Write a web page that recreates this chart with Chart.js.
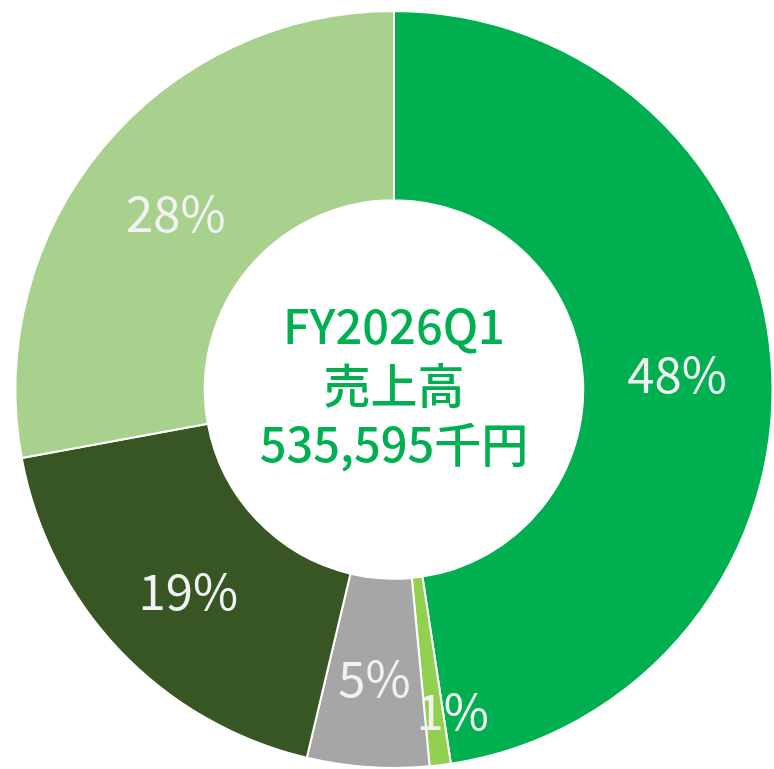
<!DOCTYPE html>
<html>
<head>
<meta charset="utf-8">
<script src="https://cdn.jsdelivr.net/npm/chart.js@4.4.1/dist/chart.umd.min.js"></script>
<style>
  html, body { margin: 0; padding: 0; background: #fff; }
  #wrap { width: 774px; height: 769px; }
</style>
</head>
<body>
<div id="wrap"><canvas id="salesChart" width="774" height="769"></canvas></div>
<script>
// 売上構成 (%)
const segments = ["A", "B", "C", "D", "E"];
const shares = [47.6, 0.9, 5.2, 18.4, 27.9];
const shareLabels = ["48%", "1%", "5%", "19%", "28%"];
const colors = ["#00B050", "#92D050", "#A6A6A6", "#375623", "#A9D18E"];
const centerLines = ["FY2026Q1", "売上高", "535,595千円"];

const FONT = "'Noto Sans CJK JP', 'Noto Sans', sans-serif";

// labels on each slice
const sliceLabels = {
    id: "sliceLabels",
    afterDatasetsDraw(chart) {
        const ctx = chart.ctx;
        const arcs = chart.getDatasetMeta(0).data;
        ctx.save();
        ctx.font = "49px " + FONT;
        ctx.fillStyle = "#F2F2F2";
        ctx.textAlign = "center";
        ctx.textBaseline = "middle";
        arcs.forEach((arc, i) => {
            const p = arc.tooltipPosition();
            let dx = 0, dy = 6;
            if (i === 1) { dx = 24; dy = 40; } // small slice label pushed outward
            ctx.fillText(shareLabels[i], p.x + dx, p.y + dy);
        });
        ctx.restore();
    }
};

// text in the hole
const centerText = {
    id: "centerText",
    afterDraw(chart) {
        const ctx = chart.ctx;
        const arc = chart.getDatasetMeta(0).data[0];
        ctx.save();
        ctx.font = "500 47px " + FONT;
        ctx.fillStyle = "#00B050";
        ctx.textAlign = "center";
        ctx.textBaseline = "middle";
        const lh = 59;
        centerLines.forEach((t, i) => {
            ctx.fillText(t, arc.x, arc.y - 4 + (i - 1) * lh);
        });
        ctx.restore();
    }
};

new Chart(document.getElementById("salesChart"), {
    type: "doughnut",
    data: {
        labels: segments,
        datasets: [{
            data: shares,
            backgroundColor: colors,
            borderColor: "#FFFFFF",
            borderWidth: 2
        }]
    },
    options: {
        responsive: false,
        animation: false,
        cutout: "50%",
        layout: { padding: { left: 14, top: 10, right: 0, bottom: 0 } },
        plugins: {
            legend: { display: false },
            tooltip: { enabled: false }
        }
    },
    plugins: [sliceLabels, centerText]
});
</script>
</body>
</html>
